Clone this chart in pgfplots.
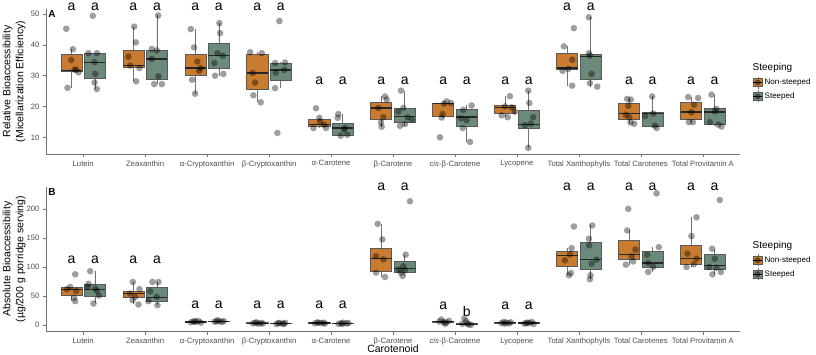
\documentclass[border=0pt]{standalone}
\usepackage{fontspec}
\setmainfont{Liberation Sans}
\usepackage{pgfplots}
\pgfplotsset{compat=1.18}
\usepgfplotslibrary{statistics}

\definecolor{ns}{RGB}{201,124,47}
\definecolor{st}{RGB}{108,138,122}
\definecolor{axgray}{RGB}{77,77,77}

% one box: colour, position, lower whisker, q1, median, q3, upper whisker
\newcommand{\bx}[7]{\addplot[forget plot, fill=#1, draw=black!65, line width=0.6pt,
  boxplot prepared={draw direction=y, draw position=#2, lower whisker=#3, lower quartile=#4,
  median=#5, upper quartile=#6, upper whisker=#7, box extend=0.34, whisker extend=0}]
  coordinates {};}

\pgfplotsset{
  panel/.style={
    width=694pt, height=145pt, scale only axis, anchor=south west,
    xmin=0.4, xmax=11.6, xtick={1,...,11},
    xticklabels={Lutein, Zeaxanthin, α-Cryptoxanthin, β-Cryptoxanthin, α-Carotene,
      β-Carotene, \textit{cis}-β-Carotene, Lycopene, Total Xanthophylls,
      Total Carotenes, Total Provitamin A},
    axis x line*=bottom, axis y line*=left,
    axis line style={-, axgray!80, line width=0.7pt},
    tick align=outside, major tick length=3pt,
    tick style={axgray!80, line width=0.6pt},
    tick label style={font=\fontsize{7.7}{9}\selectfont, text=axgray},
    /pgf/number format/assume math mode=true,
    clip=false,
    every axis y label/.style={at={(axis description cs:-0.046,0.5)}, rotate=90,
      anchor=center, align=center, font=\fontsize{10.5}{13}\selectfont},
    every axis x label/.style={at={(axis description cs:0.5,-0.145)}, anchor=base,
      inner sep=0pt, font=\fontsize{10.5}{12}\selectfont},
    boxplot/draw direction=y,
    boxplot/every median/.style={draw=black!85, line width=1.3pt},
    boxplot/every whisker/.style={draw=black!55, line width=0.7pt},
    legend style={at={(1.018,0.445)}, anchor=west, draw=none, fill=none,
      font=\fontsize{8}{9.5}\selectfont, row sep=1.5pt, inner sep=0pt},
    legend cell align=left,
  },
  pts/.style={forget plot, only marks, mark=*, mark size=3.3pt,
    mark options={draw opacity=0, fill=black, fill opacity=0.38}},
  letters/.style={forget plot, only marks, mark=none, nodes near coords,
    point meta=explicit symbolic,
    nodes near coords style={anchor=base, font=\fontsize{14}{14}\selectfont, inner sep=0pt}},
  nskey/.style={legend image code/.code={
    \draw[black!55] (4.5pt,-6pt)--(4.5pt,6pt);
    \draw[fill=ns, draw=black!65] (0pt,-4pt) rectangle (9pt,4pt);
    \draw[black, line width=1pt] (0pt,0pt)--(9pt,0pt);
    \fill[black, opacity=0.4] (4.5pt,0pt) circle (2.6pt);}},
  stkey/.style={legend image code/.code={
    \draw[black!55] (4.5pt,-6pt)--(4.5pt,6pt);
    \draw[fill=st, draw=black!65] (0pt,-4pt) rectangle (9pt,4pt);
    \draw[black, line width=1pt] (0pt,0pt)--(9pt,0pt);
    \fill[black, opacity=0.4] (4.5pt,0pt) circle (2.6pt);}},
}

\begin{document}
\begin{tikzpicture}
\path[use as bounding box] (0,0) rectangle (816pt,355pt);

% ---------- A: relative bioaccessibility
\begin{axis}[panel, at={(46pt,201pt)},
  ymin=4.7, ymax=51.6, ytick={10,20,30,40,50},
  ylabel={Relative Bioaccessibility\\(Micellarization Efficiency)}]
\bx{ns}{0.81}{26.1}{31.4}{31.8}{36.8}{38.6}
\bx{st}{1.19}{25.7}{29.1}{34.4}{37.3}{37.3}
\bx{ns}{1.81}{28.2}{32.7}{33.3}{38.4}{45.9}
\bx{st}{2.19}{27.3}{28.7}{35.4}{38.2}{49.5}
\bx{ns}{2.81}{24.2}{30.0}{32.5}{37.0}{45.1}
\bx{st}{3.19}{30.0}{32.5}{36.6}{40.5}{47.0}
\bx{ns}{3.81}{21.4}{25.7}{30.9}{37.1}{37.6}
\bx{st}{4.19}{26.0}{28.5}{31.9}{34.1}{34.3}
\bx{ns}{4.81}{13.1}{13.5}{14.2}{15.8}{16.4}
\bx{st}{5.19}{10.6}{10.8}{13.1}{14.7}{17.6}
\bx{ns}{5.81}{13.5}{15.8}{19.6}{21.5}{23.3}
\bx{st}{6.19}{13.8}{14.9}{16.9}{19.6}{25.2}
\bx{ns}{6.81}{16.5}{16.8}{21.0}{21.2}{21.7}
\bx{st}{7.19}{8.6}{13.6}{16.7}{19.0}{20.4}
\bx{ns}{7.81}{16.6}{18.0}{19.8}{20.4}{23.4}
\bx{st}{8.19}{6.7}{12.9}{14.2}{18.8}{25.2}
\bx{ns}{8.81}{26.8}{32.2}{32.5}{37.3}{39.5}
\bx{st}{9.19}{26.5}{29.0}{36.2}{37.1}{48.9}
\bx{ns}{9.81}{14.5}{16.0}{17.7}{21.2}{22.5}
\bx{st}{10.19}{13.1}{13.6}{17.7}{18.3}{23.3}
\bx{ns}{10.81}{15.0}{16.0}{18.3}{21.5}{23.1}
\bx{st}{11.19}{13.6}{14.4}{18.3}{19.4}{23.9}
\addplot[pts] coordinates {
  (0.726,45.2) (0.834,38.6) (0.806,35.1) (0.887,31.9) (0.925,31.1) (0.747,26.1) (0.86,32.0)
  (1.156,49.4) (1.086,37.3) (1.221,37.3) (1.183,34.4) (1.194,30.6) (1.183,27.8) (1.221,25.7)
  (1.823,45.9) (1.850,40.8) (1.731,36.2) (1.758,33.3) (1.909,32.5) (1.855,28.2)
  (2.210,49.5) (2.108,38.7) (2.188,38.2) (2.108,35.4) (2.215,29.8) (2.145,27.3) (2.269,27.3)
  (2.737,45.1) (2.790,39.2) (2.844,34.6) (2.871,31.6) (2.898,32.5) (2.758,28.7) (2.806,24.2)
  (3.199,47.0) (3.210,43.8) (3.167,37.3) (3.118,34.1) (3.253,36.5) (3.129,30.0) (3.263,30.6)
  (3.694,37.6) (3.882,37.3) (3.737,30.9) (3.774,27.8) (3.747,23.7) (3.866,21.4)
  (4.167,47.7) (4.097,34.1) (4.258,34.3) (4.108,31.0) (4.247,31.9) (4.097,26.0) (4.134,11.5)
  (4.758,19.5) (4.812,16.4) (4.715,13.1) (4.887,14.2) (4.919,13.1) (4.823,15.2)
  (5.118,17.6) (5.108,16.4) (5.226,13.1) (5.156,10.6) (5.263,10.9) (5.210,12.6)
  (5.871,23.3) (5.898,22.3) (5.763,19.6) (5.844,16.6) (5.806,14.9) (5.817,13.5)
  (6.129,25.2) (6.167,19.6) (6.086,18.4) (6.237,16.6) (6.301,15.8) (6.113,13.8) (6.194,14.4)
  (6.866,21.7) (6.823,21.0) (6.935,21.2) (6.801,17.6) (6.785,16.5) (6.758,10.1)
  (7.269,20.4) (7.134,19.0) (7.097,16.2) (7.188,15.6) (7.124,13.1) (7.242,8.6)
  (7.887,23.4) (7.806,20.1) (7.915,19.8) (7.753,17.2) (7.850,16.6) (7.968,18.4)
  (8.183,25.2) (8.200,21.2) (8.263,16.6) (8.129,14.0) (8.183,6.7) (8.226,14.5)
  (8.919,45.4) (8.758,39.5) (8.892,35.2) (8.737,31.6) (8.828,32.2) (8.892,26.8)
  (9.161,48.9) (9.161,37.3) (9.177,36.5) (9.204,30.6) (9.177,27.6) (9.296,26.5)
  (9.779,22.5) (9.839,22.3) (9.796,20.3) (9.758,17.4) (9.812,16.6) (9.834,14.9) (9.892,14.5)
  (10.183,23.3) (10.199,17.8) (10.070,17.0) (10.226,13.9) (10.253,13.1)
  (10.763,23.1) (10.925,22.8) (10.860,20.6) (10.817,18.2) (10.774,15.0) (10.839,15.0)
  (11.140,23.9) (11.220,19.3) (11.194,18.5) (11.113,15.0) (11.247,14.2) (11.301,13.6)
};
\addplot[letters] coordinates {
  (0.81,51.2)[a] (1.19,51.2)[a] (1.81,51.2)[a] (2.19,51.2)[a] (2.81,51.2)[a] (3.19,51.2)[a]
  (3.81,51.2)[a] (4.19,51.2)[a] (4.81,27.2)[a] (5.19,27.2)[a] (5.81,27.2)[a] (6.19,27.2)[a]
  (6.81,27.2)[a] (7.19,27.2)[a] (7.81,27.2)[a] (8.19,27.2)[a] (8.81,51.2)[a] (9.19,51.2)[a]
  (9.81,27.2)[a] (10.19,27.2)[a] (10.81,27.2)[a] (11.19,27.2)[a]
};
\addlegendimage{nskey}\addlegendentry{Non-steeped}
\addlegendimage{stkey}\addlegendentry{Steeped}
\node[anchor=west, font=\fontsize{10}{12}\selectfont, inner sep=0pt] at (rel axis cs:1.018,0.593) {Steeping};
\node[anchor=west, font=\bfseries\fontsize{10}{12}\selectfont, inner sep=0pt] at (rel axis cs:0.003,0.962) {A};
\end{axis}

% ---------- B: absolute bioaccessibility
\begin{axis}[panel, at={(46pt,23.3pt)},
  ymin=-11.4, ymax=239, ytick={0,50,100,150,200},
  ylabel={Absolute Bioaccessibility\\(µg/200 g porridge serving)},
  xlabel={Carotenoid}]
\bx{ns}{0.81}{41.3}{51.6}{61.9}{65.9}{65.9}
\bx{st}{1.19}{37.3}{50.4}{61.4}{70.0}{93.0}
\bx{ns}{1.81}{35.6}{48.1}{54.5}{58.5}{74.5}
\bx{st}{2.19}{34.4}{41.3}{47.6}{65.9}{74.5}
\bx{ns}{2.81}{3.8}{4.5}{5.5}{6.5}{7.5}
\bx{st}{3.19}{5.0}{5.8}{6.5}{7.2}{8.5}
\bx{ns}{3.81}{1.8}{2.5}{3.2}{4.0}{4.8}
\bx{st}{4.19}{1.5}{2.3}{3.0}{3.8}{4.5}
\bx{ns}{4.81}{2.0}{2.8}{3.5}{4.2}{5.0}
\bx{st}{5.19}{1.8}{2.4}{3.0}{3.8}{4.4}
\bx{ns}{5.81}{83.1}{93.4}{114.7}{133.0}{174.9}
\bx{st}{6.19}{84.8}{91.7}{97.5}{110.6}{121.6}
\bx{ns}{6.81}{2.5}{4.5}{5.7}{7.0}{9.8}
\bx{st}{7.19}{0.3}{0.8}{1.5}{2.4}{3.6}
\bx{ns}{7.81}{2.5}{3.2}{4.0}{4.8}{5.8}
\bx{st}{8.19}{1.8}{2.8}{3.5}{4.2}{5.6}
\bx{ns}{8.81}{86.0}{101.5}{120.4}{127.3}{133.0}
\bx{st}{9.19}{79.1}{95.8}{113.0}{142.2}{172.0}
\bx{ns}{9.81}{104.4}{113.5}{122.1}{146.2}{163.4}
\bx{st}{10.19}{91.7}{100.3}{107.1}{127.3}{134.7}
\bx{ns}{10.81}{100.3}{104.4}{114.7}{137.6}{186.2}
\bx{st}{11.19}{87.7}{95.8}{103.2}{122.1}{131.9}
\addplot[pts] coordinates {
  (0.871,87.7) (0.790,65.9) (0.737,62.0) (0.887,59.3) (0.855,47.0) (0.871,41.3)
  (1.113,93.0) (1.086,71.3) (1.070,65.9) (1.194,63.2) (1.221,59.3) (1.253,51.0) (1.167,37.3)
  (1.801,74.5) (1.909,62.0) (1.758,54.5) (1.839,48.7) (1.796,43.0) (1.892,35.6)
  (2.118,74.5) (2.215,74.5) (2.081,58.5) (2.188,48.7) (2.054,41.3) (2.199,34.4)
  (2.74,4.8) (2.78,6.2) (2.82,5.5) (2.86,7.2) (2.90,4.2) (2.80,6.6)
  (3.12,6.0) (3.17,8.2) (3.20,6.8) (3.24,5.4) (3.27,7.0) (3.15,6.4)
  (3.74,3.0) (3.78,4.2) (3.83,2.4) (3.87,3.6) (3.90,2.8) (3.80,4.6)
  (4.12,1.8) (4.17,3.2) (4.22,2.6) (4.26,4.0) (4.15,3.8) (4.24,2.2)
  (4.74,3.0) (4.78,4.8) (4.84,3.6) (4.88,4.2) (4.90,2.5) (4.80,3.8)
  (5.12,2.2) (5.16,3.2) (5.20,4.2) (5.25,2.8) (5.28,3.6) (5.18,2.0)
  (5.753,174.9) (5.828,147.9) (5.726,118.7) (5.844,113.4) (5.726,90.6) (5.871,83.1)
  (6.274,213.8) (6.204,121.6) (6.167,101.5) (6.124,90.6) (6.156,84.8) (6.194,94.6) (6.090,96.0)
  (6.75,6.2) (6.78,9.6) (6.82,5.0) (6.86,4.2) (6.90,7.4) (6.84,2.3)
  (7.15,11.3) (7.18,6.8) (7.12,2.2) (7.22,1.0) (7.26,0.6) (7.20,2.8)
  (7.75,3.5) (7.79,5.6) (7.83,4.2) (7.87,3.0) (7.90,4.8) (7.80,2.6)
  (8.12,2.6) (8.17,4.4) (8.20,3.6) (8.24,5.5) (8.27,2.0) (8.15,3.2)
  (8.919,170.3) (8.882,133.0) (8.855,122.1) (8.774,111.8) (8.871,90.0) (8.839,86.0)
  (9.215,172.0) (9.161,149.1) (9.166,137.6) (9.285,113.0) (9.204,106.1) (9.188,86.0) (9.177,79.1)
  (9.796,200.7) (9.779,163.4) (9.914,130.2) (9.850,118.7) (9.876,110.0) (9.758,104.4)
  (10.253,227.5) (10.290,134.7) (10.102,121.6) (10.118,107.1) (10.199,100.3) (10.118,91.7)
  (10.898,186.2) (10.817,153.6) (10.753,123.3) (10.898,114.7) (10.737,100.3) (10.855,105.0)
  (11.274,216.0) (11.150,131.9) (11.194,114.7) (11.102,100.3) (11.220,99.2) (11.156,87.7) (11.290,91.7)
};
\addplot[letters] coordinates {
  (0.81,105.8)[a] (1.19,105.8)[a] (1.81,105.8)[a] (2.19,105.8)[a] (2.81,28)[a] (3.19,28)[a]
  (3.81,28)[a] (4.19,28)[a] (4.81,28)[a] (5.19,28)[a] (5.81,232)[a] (6.19,232)[a]
  (6.81,26.5)[a] (7.19,15.5)[b] (7.81,27)[a] (8.19,27)[a] (8.81,232)[a] (9.19,232)[a]
  (9.81,232)[a] (10.19,232)[a] (10.81,232)[a] (11.19,232)[a]
};
\addlegendimage{nskey}\addlegendentry{Non-steeped}
\addlegendimage{stkey}\addlegendentry{Steeped}
\node[anchor=west, font=\fontsize{10}{12}\selectfont, inner sep=0pt] at (rel axis cs:1.018,0.593) {Steeping};
\node[anchor=west, font=\bfseries\fontsize{10}{12}\selectfont, inner sep=0pt] at (rel axis cs:0.003,0.962) {B};
\end{axis}
\end{tikzpicture}
\end{document}
